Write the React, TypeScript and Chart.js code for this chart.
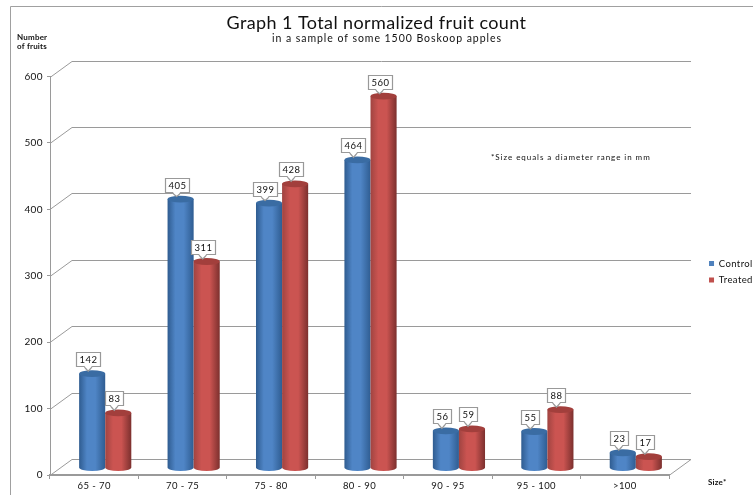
import React, { useEffect, useRef } from "react";
import { Chart, registerables } from "chart.js";

Chart.register(...registerables);

const categories = ["65 - 70", "70 - 75", "75 - 80", "80 - 90", "90 - 95", "95 - 100", ">100"];
const controlValues = [142, 405, 399, 464, 56, 55, 23];
const treatedValues = [83, 311, 428, 560, 59, 88, 17];
const displayedControl = ["142", "405", "399", "464", "56", "55", "23"];
const displayedTreated = ["83", "311", "428", "560", "59", "88", "17"];
const yTicks = [0, 100, 200, 300, 400, 500, 600];
const titleText = "Graph 1 Total normalized fruit count";
const subtitleText = "in a sample of some 1500 Boskoop apples";
const noteText = "*Size equals a diameter range in mm";

const FONT = "Lato, 'Open Sans', sans-serif";
const DEPTH_X = 22;
const DEPTH_Y = 16;
const BAR_SHIFT_X = 11;
const BAR_SHIFT_Y = -7;
const CALLOUT_SHIFT_X = -4;

const palette = [
  { edgeL: "#2f5c90", mid: "#4f85c6", edgeR: "#2f5d92", top: "#3a6ca3" },
  { edgeL: "#a04441", mid: "#cb5451", edgeR: "#7c302e", top: "#a23f3c" },
];

const wallPlugin = {
  id: "wall",
  beforeDraw(chart: any) {
    (chart.ctx as any).letterSpacing = "0.4px";
  },
  afterLayout(chart: any) {
    const l = chart.legend;
    if (l) {
      l.left += 7;
      l.right += 7;
      l.top -= 4;
      l.bottom -= 4;
    }
  },
  beforeDatasetsDraw(chart: any) {
    const { ctx, chartArea, scales } = chart;
    ctx.save();
    ctx.strokeStyle = "#9a9a9a";
    ctx.lineWidth = 1;
    for (const t of yTicks) {
      const y = Math.round(scales.y.getPixelForValue(t)) + 0.5;
      ctx.beginPath();
      ctx.moveTo(chartArea.left, y);
      ctx.lineTo(chartArea.left + DEPTH_X, y - DEPTH_Y);
      ctx.lineTo(chartArea.right + DEPTH_X, y - DEPTH_Y);
      ctx.stroke();
    }
    const by = Math.round(chartArea.bottom) + 0.5;
    ctx.beginPath();
    ctx.moveTo(chartArea.right, by);
    ctx.lineTo(chartArea.right + DEPTH_X, by - DEPTH_Y);
    ctx.stroke();
    ctx.restore();
    drawCylinders(chart);
    return false;
  },
};

function drawCylinders(chart: any) {
  const { ctx } = chart;
  const order = [0, 1];
  for (let i = 0; i < categories.length; i++) {
    for (const ds of order) {
      const el = chart.getDatasetMeta(ds).data[i];
      const c = palette[ds];
      const x = el.x + BAR_SHIFT_X;
      const w = el.width;
      const rx = w / 2;
      const ry = 3.4;
      const top = el.y + BAR_SHIFT_Y;
      const base = el.base + BAR_SHIFT_Y;
      const g = ctx.createLinearGradient(x - rx, 0, x + rx, 0);
      g.addColorStop(0, c.edgeL);
      g.addColorStop(0.3, c.mid);
      g.addColorStop(0.62, c.mid);
      g.addColorStop(1, c.edgeR);
      ctx.save();
      ctx.fillStyle = g;
      ctx.beginPath();
      ctx.moveTo(x - rx, top);
      ctx.lineTo(x - rx, base);
      ctx.ellipse(x, base, rx, ry, 0, Math.PI, 0, true);
      ctx.lineTo(x + rx, top);
      ctx.closePath();
      ctx.fill();
      ctx.fillStyle = c.top;
      ctx.beginPath();
      ctx.ellipse(x, top, rx, ry, 0, 0, Math.PI * 2);
      ctx.fill();
      ctx.restore();
    }
  }
  for (const ds of order) {
    const texts = ds === 0 ? displayedControl : displayedTreated;
    for (let i = 0; i < categories.length; i++) {
      const el = chart.getDatasetMeta(ds).data[i];
      drawCallout(ctx, el.x + BAR_SHIFT_X + CALLOUT_SHIFT_X, el.y + BAR_SHIFT_Y - 2.5, texts[i]);
    }
  }
}

function drawCallout(ctx: any, x: number, tipY: number, text: string) {
  ctx.save();
  ctx.font = `9.5px ${FONT}`;
  ctx.letterSpacing = "0.5px";
  const w = Math.round(ctx.measureText(text).width + 6);
  const h = 14;
  const left = Math.round(x - w / 2) + 0.5;
  const bottom = Math.round(tipY - 5) + 0.5;
  const topY = bottom - h;
  ctx.fillStyle = "#ffffff";
  ctx.strokeStyle = "#999999";
  ctx.lineWidth = 1.2;
  ctx.beginPath();
  ctx.moveTo(left, topY);
  ctx.lineTo(left + w, topY);
  ctx.lineTo(left + w, bottom);
  ctx.lineTo(x + 4, bottom);
  ctx.lineTo(x + 2.5, bottom + 2);
  ctx.lineTo(x, tipY);
  ctx.lineTo(x - 2.5, bottom + 2);
  ctx.lineTo(x - 4, bottom);
  ctx.lineTo(left, bottom);
  ctx.closePath();
  ctx.fill();
  ctx.stroke();
  ctx.fillStyle = "#111111";
  ctx.textAlign = "center";
  ctx.textBaseline = "middle";
  ctx.fillText(text, left + w / 2, topY + h / 2 + 0.5);
  ctx.restore();
}

const textPlugin = {
  id: "texts",
  afterDraw(chart: any) {
    const { ctx, width, height } = chart;
    ctx.save();
    ctx.strokeStyle = "#a0a0a0";
    ctx.lineWidth = 1;
    ctx.beginPath();
    ctx.moveTo(10.5, height);
    ctx.lineTo(10.5, 6.5);
    ctx.lineTo(width, 6.5);
    ctx.stroke();

    ctx.fillStyle = "#111111";
    ctx.textBaseline = "middle";
    ctx.textAlign = "center";
    ctx.font = `10.5px ${FONT}`;
    (ctx as any).letterSpacing = "0.95px";
    ctx.fillText(subtitleText, 387, 39);
    ctx.textAlign = "left";
    ctx.font = `8px ${FONT}`;
    (ctx as any).letterSpacing = "0.95px";
    ctx.fillText(noteText, 491, 157);
    (ctx as any).letterSpacing = "0.2px";
    ctx.font = `bold 8px ${FONT}`;
    ctx.fillText("Number", 17, 37);
    ctx.fillText("of fruits", 17, 46);
    ctx.fillText("Size*", 708, 482);
    ctx.restore();
  },
};

export default function App() {
  const ref = useRef<HTMLCanvasElement | null>(null);
  useEffect(() => {
    document.body.style.margin = "0";
    const chart = new Chart(ref.current as HTMLCanvasElement, {
      type: "bar",
      data: {
        labels: categories,
        datasets: [
          { label: "Control", data: controlValues, backgroundColor: "#4f81bd", yAxisID: "y" },
          { label: "Treated", data: treatedValues, backgroundColor: "#c0504d", yAxisID: "y" },
        ],
      },
      options: {
        animation: false,
        responsive: false,
        layout: { padding: { top: 0, left: 0, right: 0, bottom: 0 } },
        datasets: { bar: { categoryPercentage: 0.59, barPercentage: 1 } },
        plugins: {
          tooltip: { enabled: false },
          title: {
            display: true,
            text: titleText,
            color: "#111111",
            font: { family: FONT, size: 18, weight: "normal" },
            padding: { top: 12, bottom: 43 },
          },
          legend: {
            display: true,
            position: "right",
            fullSize: false,
            labels: {
              boxWidth: 5,
              boxHeight: 5,
              padding: 7,
              color: "#111111",
              font: { family: FONT, size: 9.5 },
            },
          },
        },
        scales: {
          x: {
            grid: { display: true, drawOnChartArea: false, tickLength: 4, color: "#9a9a9a" },
            border: { color: "#9a9a9a", width: 2 },
            ticks: { color: "#111111", font: { family: FONT, size: 9.5 }, padding: 1, maxRotation: 0 },
            afterFit: (s: any) => { s.height = 20; },
          },
          y: {
            min: 0,
            max: 600,
            grid: { display: true, drawOnChartArea: false, tickLength: 3, color: "#9a9a9a" },
            border: { color: "#9a9a9a" },
            ticks: { stepSize: 100, color: "#111111", font: { family: FONT, size: 10 }, padding: 4 },
            afterFit: (s: any) => { s.width = 50; },
          },
          spacer: {
            position: "right",
            display: true,
            grid: { display: false },
            border: { display: false },
            ticks: { display: false },
            afterFit: (s: any) => { s.width = 26; },
          },
        },
      } as any,
      plugins: [wallPlugin, textPlugin],
    });
    return () => chart.destroy();
  }, []);
  return (
    <canvas
      ref={ref}
      width={753}
      height={495}
      style={{ display: "block", width: 753, height: 495, filter: "blur(0.5px)" }}
    />
  );
}
